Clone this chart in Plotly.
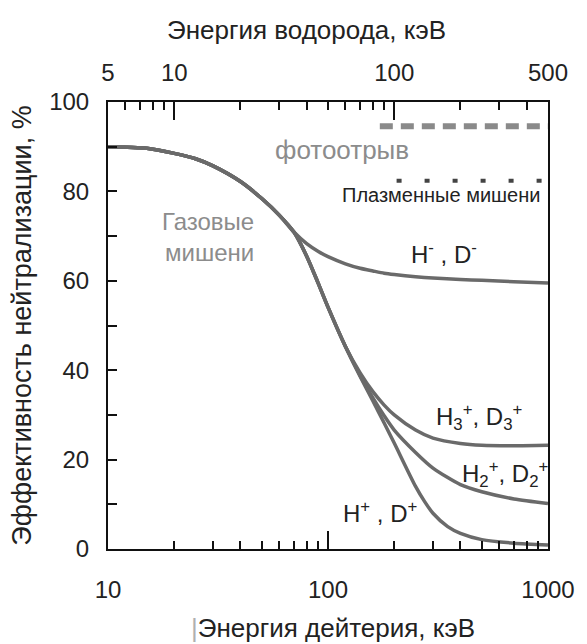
import math
import plotly.graph_objects as go

# ---------------- data (deuterium energy, keV ; neutralisation efficiency, %) ----------------
E_common = [10, 15, 20, 25, 30, 40, 50, 60, 70]
V_common = [90.0, 89.65, 88.5, 87.3, 85.7, 82.2, 78.4, 74.7, 70.9]

E_neg = [80, 90, 100, 120, 140, 160, 180, 200, 250, 300, 400, 500, 700, 1000]
V_neg = [68.3, 66.6, 65.4, 63.8, 62.8, 62.2, 61.7, 61.4, 60.9, 60.6, 60.3, 60.1, 59.8, 59.5]

E_pos = [80, 90, 100, 120]
V_pos = [65.5, 59.6, 54.1, 45.3]

E_h3 = [140, 160, 180, 200, 250, 300, 400, 500, 700, 1000]
V_h3 = [39.4, 35.2, 32.2, 30.0, 26.6, 24.8, 23.6, 23.2, 23.1, 23.2]

E_h2 = [140, 160, 180, 200, 250, 300, 400, 500, 700, 1000]
V_h2 = [38.8, 33.8, 29.8, 26.6, 21.6, 18.1, 14.4, 12.8, 11.2, 10.2]

E_h1 = [140, 160, 180, 200, 250, 275, 300, 350, 400, 500, 700, 1000]
V_h1 = [38.6, 33.1, 28.2, 23.7, 14.0, 10.6, 8.0, 5.0, 3.5, 2.1, 1.3, 0.9]

E_photo = [172, 1000]
V_photo = [94.6, 94.6]
E_plasma = [205, 1000]
V_plasma = [82.4, 82.4]

x_major = [10, 100, 1000]
x_minor = [20, 30, 40, 50, 60, 70, 80, 90, 200, 300, 400, 500, 600, 700, 800, 900]
top_major = [5, 10, 100, 500]
top_minor = [6, 7, 8, 9, 20, 30, 40, 50, 60, 70, 80, 90, 200, 300, 400]
y_ticks = [0, 10, 20, 30, 40, 50, 60, 70, 80, 90, 100]
y_labels = ["0", "", "20", "", "40", "", "60", "", "80", "", "100"]

FONT = "Liberation Sans, Arial, sans-serif"
CURVE = "#6a6a6a"
LIGHT = "#8c8c8c"

W, H = 587, 644
ML, MR, MT, MB = 108, 34, 102, 95

fig = go.Figure()

curves = [
    (E_common + E_neg, V_common + V_neg),
    (E_common + E_pos + E_h3, V_common + V_pos + V_h3),
    (E_common + E_pos + E_h2, V_common + V_pos + V_h2),
    (E_common + E_pos + E_h1, V_common + V_pos + V_h1),
]
for xs, ys in curves:
    fig.add_trace(go.Scatter(x=xs, y=ys, mode="lines",
                             line=dict(color=CURVE, width=3.5, shape="spline", smoothing=0.7),
                             hoverinfo="skip", showlegend=False))

fig.add_trace(go.Scatter(x=E_photo, y=V_photo, mode="lines",
                         line=dict(color="#8a8a8a", width=6, dash="13px,8px"),
                         hoverinfo="skip", showlegend=False))
fig.add_trace(go.Scatter(x=E_plasma, y=V_plasma, mode="lines",
                         line=dict(color="#444444", width=4, dash="5px,23px"),
                         hoverinfo="skip", showlegend=False))

# hydrogen-energy axis carrier (invisible)
fig.add_trace(go.Scatter(x=[e / 2 for e in E_common], y=V_common, mode="none",
                         xaxis="x2", hoverinfo="skip", showlegend=False))

axis_common = dict(showgrid=False, zeroline=False, showline=True, linecolor="#111",
                   linewidth=2, ticks="inside", tickcolor="#111", tickwidth=2,
                   tickfont=dict(family=FONT, size=24, color="#222"))

fig.update_layout(
    width=W, height=H,
    margin=dict(l=ML, r=MR, t=MT, b=MB),
    paper_bgcolor="white", plot_bgcolor="white",
    xaxis=dict(type="log", range=[1, 3], tickmode="array", tickvals=x_major,
               ticktext=[str(v) for v in x_major], ticklen=18, ticklabelstandoff=18,
               minor=dict(tickmode="array", tickvals=x_minor, ticks="inside", ticklen=8,
                          tickwidth=2, tickcolor="#111", showgrid=False),
               **axis_common),
    xaxis2=dict(type="log", range=[math.log10(5), math.log10(500)], overlaying="x",
                side="top", anchor="y", tickmode="array", tickvals=top_major,
                ticktext=[str(v) for v in top_major], ticklen=18, ticklabelstandoff=9,
                minor=dict(tickmode="array", tickvals=top_minor, ticks="inside", ticklen=8,
                           tickwidth=2, tickcolor="#111", showgrid=False),
                **axis_common),
    yaxis=dict(range=[0, 100], tickmode="array", tickvals=y_ticks, ticktext=y_labels,
               ticklen=9, mirror=True, ticklabelstandoff=12,
               title=dict(text="Эффективность нейтрализации, %", standoff=10,
                          font=dict(family=FONT, size=27, color="#222")),
               **axis_common),
)


def ax(e):
    return math.log10(e)


def px_x(p):
    return (p - ML) / (W - ML - MR)


def px_y(p):
    return 1 - (p - MT) / (H - MT - MB)


ann = [
    dict(x=px_x(309), y=px_y(30), xref="paper", yref="paper",
         text="Энергия водорода, кэВ", font=dict(size=26, color="#222")),
    dict(x=px_x(336), y=px_y(628), xref="paper", yref="paper",
         text='<span style="color:#b0b0b0">|</span>Энергия дейтерия, кэВ',
         font=dict(size=26, color="#222")),
    dict(x=ax(116), y=89.3, text="фотоотрыв", font=dict(size=26, color=LIGHT)),
    dict(x=ax(327), y=79.2, text="Плазменные мишени", font=dict(size=20, color="#222")),
    dict(x=ax(47), y=69.8, text="Газовые<br>мишени", xanchor="right", align="right",
         font=dict(size=24, color=LIGHT)),
    dict(x=ax(337), y=66.2, text="H<sup>-</sup> , D<sup>-</sup>", font=dict(size=24, color="#222")),
    dict(x=ax(484), y=29.5, text="H<sub>3</sub><sup>+</sup>, D<sub>3</sub><sup>+</sup>",
         font=dict(size=24, color="#222")),
    dict(x=ax(640), y=16.8, text="H<sub>2</sub><sup>+</sup>, D<sub>2</sub><sup>+</sup>",
         font=dict(size=24, color="#222")),
    dict(x=ax(172), y=8.3, text="H<sup>+</sup> , D<sup>+</sup>", font=dict(size=24, color="#222")),
]
for a in ann:
    a.setdefault("xref", "x")
    a.setdefault("yref", "y")
    a.setdefault("xanchor", "center")
    a.setdefault("yanchor", "middle")
    a["showarrow"] = False
    a["font"]["family"] = FONT
fig.update_layout(annotations=ann)

fig.write_html("out.html")
